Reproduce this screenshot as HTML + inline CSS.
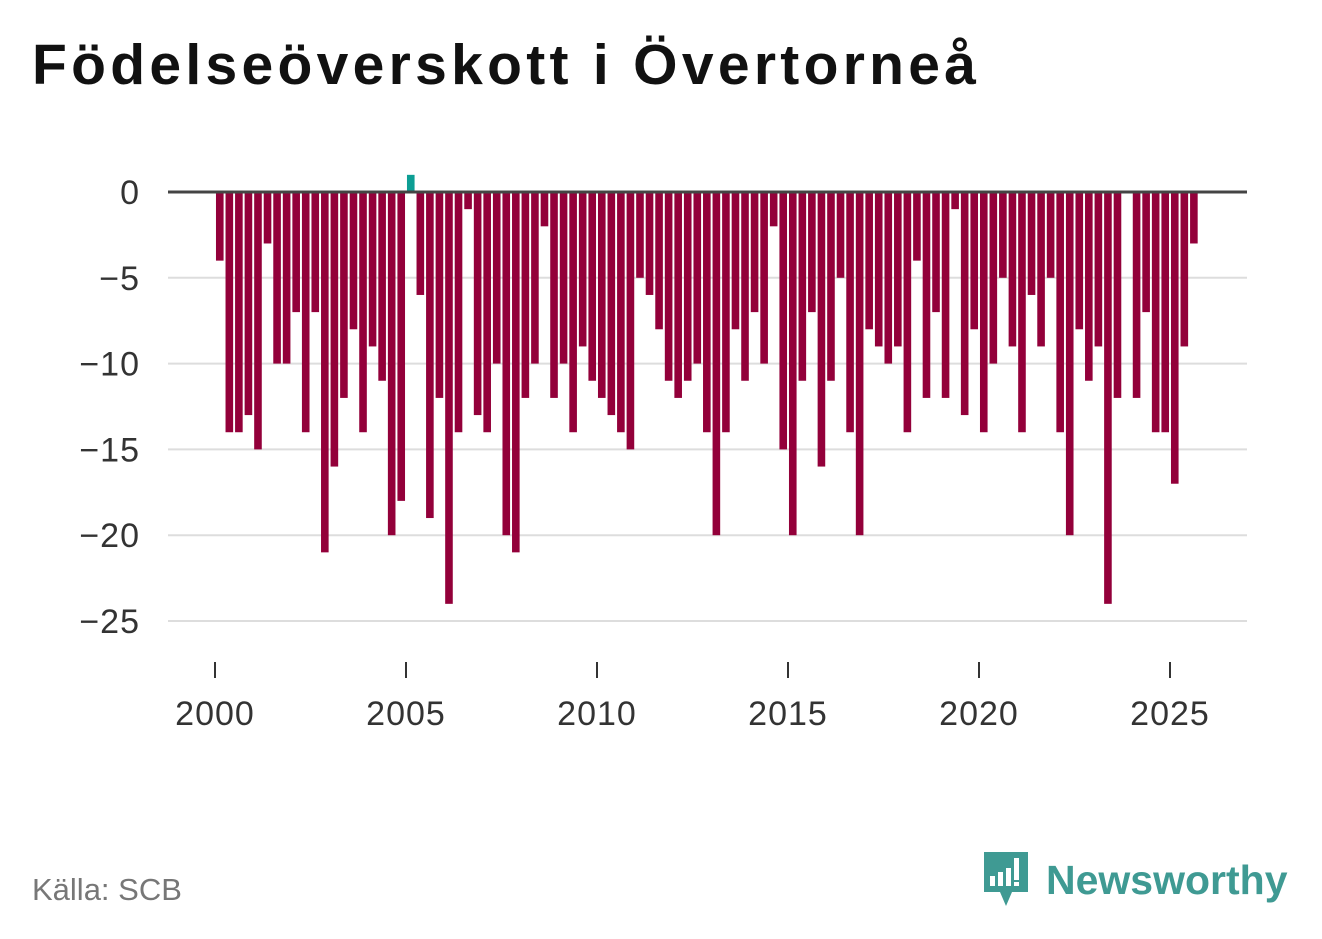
<!DOCTYPE html>
<html><head><meta charset="utf-8"><style>
body{margin:0;width:1322px;height:939px;background:#fff;font-family:"Liberation Sans","DejaVu Sans",sans-serif;overflow:hidden}
h1{position:absolute;left:32px;top:32px;margin:0;font-size:57px;font-weight:bold;color:#111;letter-spacing:4.3px}
.src{position:absolute;left:32px;top:872px;font-size:31px;color:#777}
.logo{position:absolute;left:982px;top:850px;display:flex;align-items:center}
.logo span{font-size:41px;font-weight:bold;color:#3f9a93;margin-left:14px}
</style></head><body>
<h1>Födelseöverskott i Övertorneå</h1>
<svg id="chart" width="1322" height="939" style="position:absolute;left:0;top:0"></svg>
<div class="src">Källa: SCB</div>
<div class="logo">
<svg width="50" height="60" viewBox="0 0 50 60"><path d="M2 2h44v40H30l-6 14-6-14H2z" fill="#3f9a93"/><rect x="8" y="26" width="5" height="10" fill="#fff"/><rect x="16" y="22" width="5" height="14" fill="#fff"/><rect x="24" y="18" width="5" height="18" fill="#fff"/><rect x="32" y="8" width="5" height="22" fill="#fff"/><rect x="32" y="32" width="5" height="4" fill="#fff"/></svg>
<span>Newsworthy</span></div>
<script>
const startYear = 2000;
const values = [-4,-14,-14,-13,-15,-3,-10,-10,-7,-14,-7,-21,-16,-12,-8,-14,-9,-11,-20,-18,1,-6,-19,-12,-24,-14,-1,-13,-14,-10,-20,-21,-12,-10,-2,-12,-10,-14,-9,-11,-12,-13,-14,-15,-5,-6,-8,-11,-12,-11,-10,-14,-20,-14,-8,-11,-7,-10,-2,-15,-20,-11,-7,-16,-11,-5,-14,-20,-8,-9,-10,-9,-14,-4,-12,-7,-12,-1,-13,-8,-14,-10,-5,-9,-14,-6,-9,-5,-14,-20,-8,-11,-9,-24,-12,0,-12,-7,-14,-14,-17,-9,-3];
const yTicks = [0,-5,-10,-15,-20,-25];
const xTicks = [2000,2005,2010,2015,2020,2025];
const svg = document.getElementById('chart');
const NS = 'http://www.w3.org/2000/svg';
const x = t => 215 + (t - 2000) * 38.2;
const y = v => 192 - v * 17.16;
function mk(tag, attrs){const e=document.createElementNS(NS,tag);for(const k in attrs)e.setAttribute(k,attrs[k]);svg.appendChild(e);return e;}
yTicks.forEach(v=>{
  if(v!==0){const g=mk('line',{x1:168,x2:1247,y1:y(v),y2:y(v),stroke:'#ddd','stroke-width':2});
  
  }
  const t=mk('text',{x:140,y:y(v)+12,'text-anchor':'end','font-size':34,'letter-spacing':1,fill:'#333'});
  t.textContent = v<0 ? '\u2212'+Math.abs(v) : String(v);
  
  
});
values.forEach((v,i)=>{
  const cx = x(startYear + (i+0.5)/4);
  const top = Math.min(y(v), y(0)), h = Math.abs(y(v)-y(0));
  const r=mk('rect',{x:cx-3.8,y:top,width:7.6,height:h,fill:v>0?'#0d9e94':'#93003a'});
  
  
});
const z=mk('line',{x1:168,x2:1247,y1:y(0),y2:y(0),stroke:'#444','stroke-width':3});


xTicks.forEach(yr=>{
  const l=mk('line',{x1:x(yr),x2:x(yr),y1:662,y2:678,stroke:'#333','stroke-width':2});
  
  
  const t=mk('text',{x:x(yr),y:725,'text-anchor':'middle','font-size':34,'letter-spacing':1,fill:'#333'});
  t.textContent=yr;
  
  
});
</script>
</body></html>
